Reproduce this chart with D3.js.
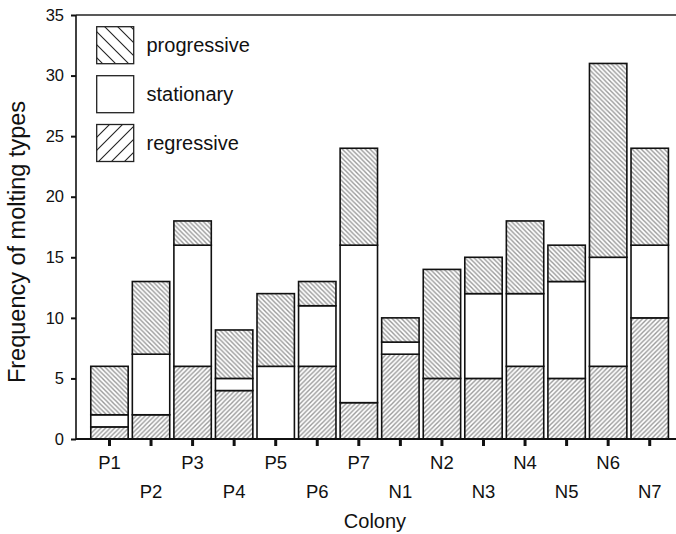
<!DOCTYPE html>
<html><head><meta charset="utf-8">
<script src="https://cdn.jsdelivr.net/npm/d3@7"></script>
<style>body{margin:0;background:#fff}svg{display:block}text{font-family:"Liberation Sans",Arial,Helvetica,sans-serif;fill:#111}</style>
</head><body>
<script>
const colonies = ["P1","P2","P3","P4","P5","P6","P7","N1","N2","N3","N4","N5","N6","N7"];
const regressive = [1,2,6,4,0,6,3,7,5,5,6,5,6,10];
const stationary = [1,5,10,1,6,5,13,1,0,7,6,8,9,6];
const progressive = [4,6,2,4,6,2,8,2,9,3,6,3,16,8];
const yTicks = [0,5,10,15,20,25,30,35];
const seriesNames = ["regressive","stationary","progressive"];
const legendOrder = ["progressive","stationary","regressive"];

const W = 676, H = 534;
const svg = d3.select("body").append("svg").attr("width", W).attr("height", H);
const defs = svg.append("defs");
function hatch(id, dir, color, spacing, sw) {
  const p = defs.append("pattern").attr("id", id).attr("patternUnits", "userSpaceOnUse")
    .attr("width", spacing).attr("height", spacing);
  p.append("rect").attr("width", spacing).attr("height", spacing).attr("fill", "#fff");
  const s = spacing;
  if (dir === "back") {
    p.append("path").attr("d", `M${-s},0 L${s},${2*s} M0,${-s} L${2*s},${s} M${-s},${-s} L${2*s},${2*s}`)
      .attr("stroke", color).attr("stroke-width", sw);
  } else {
    p.append("path").attr("d", `M0,${s} L${s},0 M${-s},${s} L${s},${-s} M0,${2*s} L${2*s},0`)
      .attr("stroke", color).attr("stroke-width", sw);
  }
}
hatch("hp", "back", "#999", 4.6, 1.4);
hatch("hr", "fwd", "#999", 4.6, 1.4);
hatch("lp", "back", "#222", 13, 1.1);
hatch("lr", "fwd", "#222", 13, 1.1);

const x0 = 76, yBase = 439, yTop = 15;
const x = d3.scaleBand().domain(colonies).range([88.7, 670.5]).paddingInner(0.1).paddingOuter(0.05);
const y = d3.scaleLinear().domain([0, 35]).range([yBase, yTop]);

const data = colonies.map((c, i) => ({colony: c, regressive: regressive[i], stationary: stationary[i], progressive: progressive[i]}));
const stack = d3.stack().keys(seriesNames)(data);
const fills = {regressive: "url(#hr)", stationary: "#fff", progressive: "url(#hp)"};

const g = svg.append("g");
stack.forEach(layer => {
  g.selectAll(null).data(layer.filter(d => d[1] - d[0] > 0)).enter().append("rect")
    .attr("x", d => x(d.data.colony))
    .attr("y", d => y(d[1]))
    .attr("width", x.bandwidth())
    .attr("height", d => y(d[0]) - y(d[1]))
    .attr("fill", fills[layer.key])
    .attr("stroke", "#111").attr("stroke-width", 1.6);
});

svg.append("line").attr("x1", x0).attr("x2", W).attr("y1", y(35)).attr("y2", y(35)).attr("stroke", "#222").attr("stroke-width", 1.4);

const yAxis = d3.axisLeft(y).tickValues(yTicks).tickSize(5).tickPadding(7);
const ya = svg.append("g").attr("transform", `translate(${x0},0)`).call(yAxis);
ya.select(".domain").attr("stroke", "#111").attr("stroke-width", 1.6).attr("d", `M0,${yBase}V${yTop}`);
ya.selectAll(".tick line").attr("stroke", "#111").attr("stroke-width", 2);
ya.selectAll(".tick text").style("font-size", "16.5px").attr("fill", "#111");

const xAxis = d3.axisBottom(x).tickSize(7).tickPadding(10);
const xa = svg.append("g").attr("transform", `translate(0,${yBase})`).call(xAxis);
xa.select(".domain").attr("stroke", "#111").attr("stroke-width", 2.2).attr("d", `M${x0},0H${W}`);
xa.selectAll(".tick line").attr("stroke", "#111").attr("stroke-width", 3);
xa.selectAll(".tick text").style("font-size", "18.5px").attr("fill", "#111")
  .attr("y", (d, i) => i % 2 === 0 ? 30 : 59).attr("dy", "0");

svg.append("text").attr("x", 375).attr("y", 528).attr("text-anchor", "middle")
  .style("font-size", "20px").text("Colony");
svg.append("text").attr("transform", `translate(25,242) rotate(-90)`)
  .attr("text-anchor", "middle").style("font-size", "23.5px").text("Frequency of molting types");

const legY = [26.7, 75.7, 124.5];
const legFill = {progressive: "url(#lp)", stationary: "#fff", regressive: "url(#lr)"};
legendOrder.forEach((k, i) => {
  svg.append("rect").attr("x", 96.7).attr("y", legY[i]).attr("width", 37).attr("height", 37)
    .attr("fill", legFill[k]).attr("stroke", "#222").attr("stroke-width", 1.3);
  svg.append("text").attr("x", 146.5).attr("y", legY[i] + 18.5).attr("dy", "0.35em")
    .style("font-size", "20px").text(k);
});
</script>
</body></html>
